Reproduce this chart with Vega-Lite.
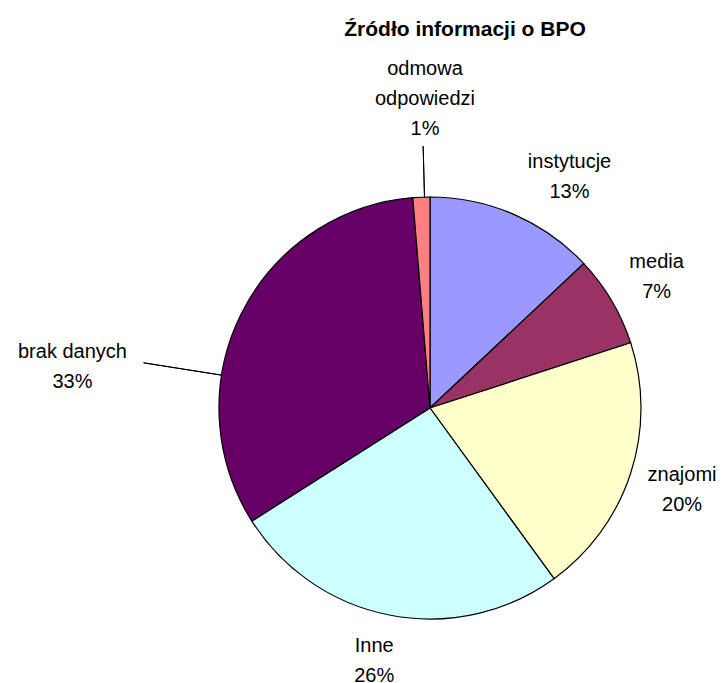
{
  "$schema": "https://vega.github.io/schema/vega-lite/v6.json",
  "autosize": "none",
  "width": 588,
  "height": 550,
  "padding": {"left": 136, "top": 133, "right": 0, "bottom": 0},
  "background": "white",
  "title": {"text": "Źródło informacji o BPO", "font": "Liberation Sans", "fontSize": 21, "fontWeight": "bold", "color": "black", "dx": 35, "offset": 19},
  "config": {"view": {"stroke": null}, "text": {"font": "Liberation Sans", "fontSize": 20, "lineHeight": 30, "lineBreak": "\n", "color": "black", "align": "center", "baseline": "middle"}},
  "data": {"values": [
    {"name": "instytucje", "value": 13.0},
    {"name": "media", "value": 7.0},
    {"name": "znajomi", "value": 20.0},
    {"name": "Inne", "value": 26.0},
    {"name": "brak danych", "value": 32.7},
    {"name": "odmowa\nodpowiedzi", "value": 1.3}
  ]},
  "transform": [
    {"stack": "value", "groupby": [], "as": ["s0", "s1"]},
    {"calculate": "(datum.s0 + datum.s1) / 2", "as": "mid"},
    {"calculate": "datum.name + '\\n' + format(datum.value / 100, '.0%')", "as": "label"}
  ],
  "layer": [
    {
      "mark": {"type": "arc", "radius": 211, "stroke": "black", "strokeWidth": 1.2},
      "encoding": {
        "theta": {"field": "s0", "type": "quantitative", "scale": {"domain": [0, 100]}, "stack": null},
        "theta2": {"field": "s1"},
        "color": {"field": "name", "type": "nominal", "legend": null,
          "scale": {"domain": ["instytucje", "media", "znajomi", "Inne", "brak danych", "odmowa\nodpowiedzi"],
                    "range": ["#9999FF", "#993366", "#FFFFCC", "#CCFFFF", "#660066", "#FF8080"]}}
      }
    },
    {
      "transform": [{"filter": "datum.name == 'brak danych'"}],
      "mark": {"type": "arc", "filled": false, "stroke": "black", "strokeWidth": 1, "radius": 290, "radius2": 211, "thetaOffset": -0.3054, "theta2Offset": -0.3054},
      "encoding": {
        "theta": {"field": "mid", "type": "quantitative", "stack": null},
        "theta2": {"field": "mid"}
      }
    },
    {
      "transform": [{"filter": "indexof(datum.name, 'odmowa') == 0"}],
      "mark": {"type": "arc", "filled": false, "stroke": "black", "strokeWidth": 1, "radius": 262, "radius2": 211, "thetaOffset": 0.0147, "theta2Offset": 0.0147},
      "encoding": {
        "theta": {"field": "mid", "type": "quantitative", "stack": null},
        "theta2": {"field": "mid"}
      }
    },
    {
      "transform": [{"filter": "datum.name == 'instytucje'"}],
      "mark": {"type": "text", "radius": 282.8, "thetaOffset": 0.1075},
      "encoding": {
        "theta": {"field": "mid", "type": "quantitative", "stack": null},
        "text": {"field": "label", "type": "nominal"}
      }
    },
    {
      "transform": [{"filter": "datum.name == 'media'"}],
      "mark": {"type": "text", "radius": 269.5, "thetaOffset": -0.038},
      "encoding": {
        "theta": {"field": "mid", "type": "quantitative", "stack": null},
        "text": {"field": "label", "type": "nominal"}
      }
    },
    {
      "transform": [{"filter": "datum.name == 'znajomi'"}],
      "mark": {"type": "text", "radius": 260.8, "thetaOffset": -0.0541},
      "encoding": {
        "theta": {"field": "mid", "type": "quantitative", "stack": null},
        "text": {"field": "label", "type": "nominal"}
      }
    },
    {
      "transform": [{"filter": "datum.name == 'Inne'"}],
      "mark": {"type": "text", "radius": 244.5, "thetaOffset": 0.0419},
      "encoding": {
        "theta": {"field": "mid", "type": "quantitative", "stack": null},
        "text": {"field": "label", "type": "nominal"}
      }
    },
    {
      "transform": [{"filter": "datum.name == 'brak danych'"}],
      "mark": {"type": "text", "radius": 361.9, "thetaOffset": -0.3065},
      "encoding": {
        "theta": {"field": "mid", "type": "quantitative", "stack": null},
        "text": {"field": "label", "type": "nominal"}
      }
    },
    {
      "transform": [{"filter": "indexof(datum.name, 'odmowa') == 0"}],
      "mark": {"type": "text", "radius": 339, "thetaOffset": 0.026},
      "encoding": {
        "theta": {"field": "mid", "type": "quantitative", "stack": null},
        "text": {"field": "label", "type": "nominal"}
      }
    }
  ]
}
